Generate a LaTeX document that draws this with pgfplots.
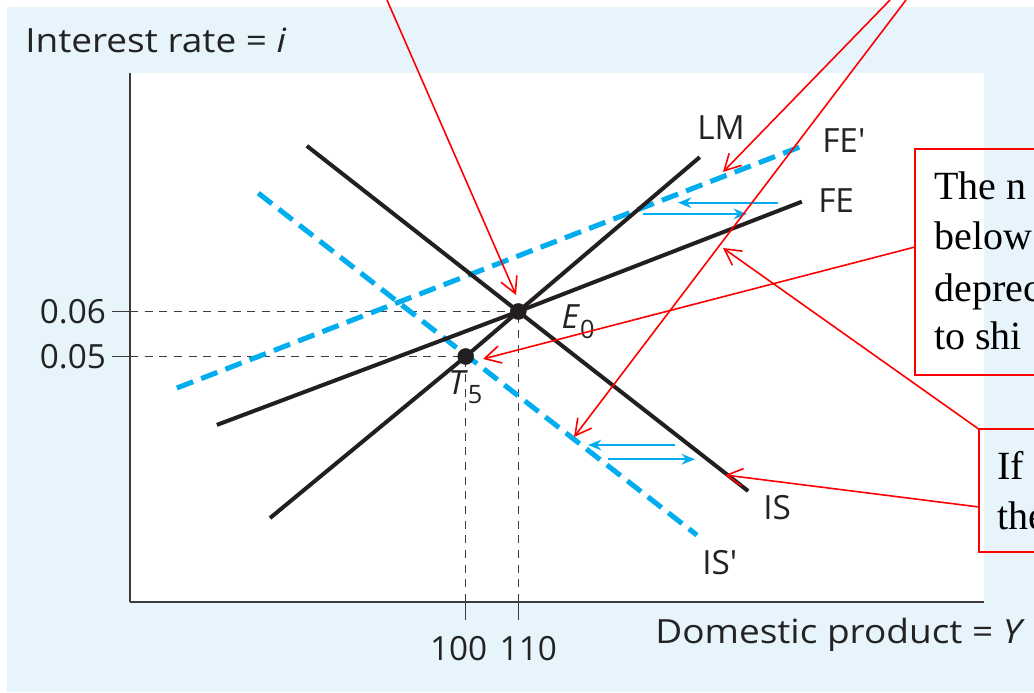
\documentclass[border=0pt]{standalone}
\usepackage{pgfplots}
\pgfplotsset{compat=1.18}
\usepackage{fontspec}
\setmainfont{Open Sans}[Ligatures=TeXOff]
\newfontfamily\serif{Liberation Serif}
\usetikzlibrary{arrows.meta}
\definecolor{bgblue}{RGB}{232,244,252}
\definecolor{cblue}{RGB}{0,174,239}
\definecolor{lineblack}{RGB}{35,31,32}
\definecolor{axisgray}{RGB}{60,60,60}
\definecolor{txt}{RGB}{35,35,35}
\newcommand{\lbl}{\fontsize{25}{30}\selectfont}
\newcommand{\sub}[1]{\raisebox{-0.28em}{\fontsize{19}{19}\selectfont #1}}

\begin{document}
\begin{tikzpicture}
\clip (0,0) rectangle (775.5pt,519pt);
\fill[white] (0,0) rectangle (775.5pt,519pt);
\fill[bgblue] (5.25pt,0) rectangle (775.5pt,513.75pt);
\begin{axis}[
  at={(97.5pt,67.5pt)}, anchor=south west, scale only axis,
  width=640.5pt, height=396.75pt,
  xmin=36.18, xmax=198.54, ymin=-0.004556, ymax=0.113,
  axis x line=bottom, axis y line=left,
  axis line style={-, draw=axisgray, line width=1.3pt},
  axis background/.style={fill=white},
  xtick={100,110}, ytick={0.05,0.06},
  xticklabels={{100\hspace*{10.5pt}},{\hspace*{15pt}110}},
  yticklabels={0.05,0.06},
  scaled y ticks=false,
  tick align=outside, major tick length=13.5pt,
  tick style={draw=axisgray, line width=1.1pt},
  ticklabel style={font=\lbl, text=txt},
  xticklabel style={yshift=-9pt},
  yticklabel style={xshift=-1pt},
  clip=false,
  guide/.style={draw=axisgray, line width=1.1pt, dash pattern=on 6pt off 5pt},
  bluedash/.style={draw=cblue, line width=3.8pt, dash pattern=on 13pt off 6.5pt},
  blk/.style={draw=lineblack, line width=3pt},
  barrow/.style={draw=cblue, line width=1.5pt, -{Stealth[length=10pt,width=8pt]}},
]
% dashed guide lines
\addplot[guide] coordinates {(36.18,0.06) (110,0.06)};
\addplot[guide] coordinates {(36.18,0.05) (100,0.05)};
\addplot[guide] coordinates {(110,-0.004556) (110,0.06)};
\addplot[guide] coordinates {(100,-0.004556) (100,0.05)};
% shifted curves (blue dashed)
\addplot[bluedash] coordinates {(45.1,0.0430) (163.6,0.0966)};  % FE'
\addplot[bluedash] coordinates {(60.57,0.0863) (143.97,0.0103)}; % IS'
% original curves
\addplot[blk] coordinates {(69.8,0.0968) (110,0.06) (153.7,0.0201)}; % IS
\addplot[blk] coordinates {(62.8,0.0141) (100,0.05) (110,0.06) (144.5,0.0943)}; % LM
\addplot[blk] coordinates {(52.7,0.0348) (110,0.06) (163.9,0.0844)}; % FE
% shift arrows
\addplot[barrow] coordinates {(159.37,0.08418) (140.36,0.08418)};
\addplot[barrow] coordinates {(133.71,0.08167) (153.48,0.08167)};
\addplot[barrow] coordinates {(139.77,0.03033) (123.25,0.03033)};
\addplot[barrow] coordinates {(127.05,0.02716) (143.59,0.02716)};
% equilibrium points
\addplot[only marks, mark=*, mark size=6pt, mark options={fill=lineblack, draw=lineblack}] coordinates {(110,0.06) (100,0.05)};
\end{axis}
% axis titles
\node[anchor=base west, inner sep=0, font=\lbl, text=txt] at (18.75pt,479.25pt) {\scalebox{1.11}[1]{Interest rate = \textit{i}}};
\node[anchor=base west, inner sep=0, font=\lbl, text=txt] at (491.25pt,36.75pt) {\scalebox{1.11}[1]{Domestic product = \textit{Y}}};
% curve labels
\node[anchor=base west, inner sep=0, font=\lbl, text=txt] at (522.75pt,414pt) {LM};
\node[anchor=base west, inner sep=0, font=\lbl, text=txt] at (616.5pt,404.25pt) {FE'};
\node[anchor=base west, inner sep=0, font=\lbl, text=txt] at (613.5pt,359.25pt) {FE};
\node[anchor=base west, inner sep=0, font=\lbl, text=txt] at (572.25pt,129pt) {IS};
\node[anchor=base west, inner sep=0, font=\lbl, text=txt] at (526.5pt,87.75pt) {IS'};
\node[anchor=base west, inner sep=0, font=\lbl, text=txt] at (421pt,272.25pt) {\textit{E}\sub{0}};
\node[anchor=base west, inner sep=0, font=\lbl, text=txt] at (336pt,223pt) {\textit{T}\sub{5}};
% red annotations
\begin{scope}[red, line width=1.2pt]
\draw[-{Straight Barb[length=12pt,width=13pt]}] (290.25pt,519pt) -- (387pt,297.75pt);
\draw[-{Straight Barb[length=12pt,width=13pt]}] (667.5pt,519pt) -- (542.25pt,390pt);
\draw[-{Straight Barb[length=12pt,width=13pt]}] (679.5pt,519pt) -- (430.5pt,191.25pt);
\draw[-{Straight Barb[length=12pt,width=13pt]}] (686.25pt,333.75pt) -- (362.25pt,249.75pt);
\draw[-{Straight Barb[length=12pt,width=13pt]}] (735pt,196.5pt) -- (542.25pt,333pt);
\draw[-{Straight Barb[length=12pt,width=13pt]}] (734.25pt,138.75pt) -- (543.75pt,162.75pt);
\draw (686.25pt,237.75pt) rectangle (790pt,407.25pt);
\draw (734.25pt,105pt) rectangle (790pt,197.25pt);
\end{scope}
\begin{scope}[every node/.style={anchor=base west, inner sep=0, font=\serif\fontsize{30}{36}\selectfont, text=black}]
\node at (700.5pt,369pt) {The n};
\node at (700.5pt,331.5pt) {below};
\node at (700.5pt,292.5pt) {deprec};
\node at (700.5pt,256.5pt) {to shi};
\node at (748pt,159pt) {If};
\node at (748pt,121.5pt) {the};
\end{scope}
\end{tikzpicture}
\end{document}
